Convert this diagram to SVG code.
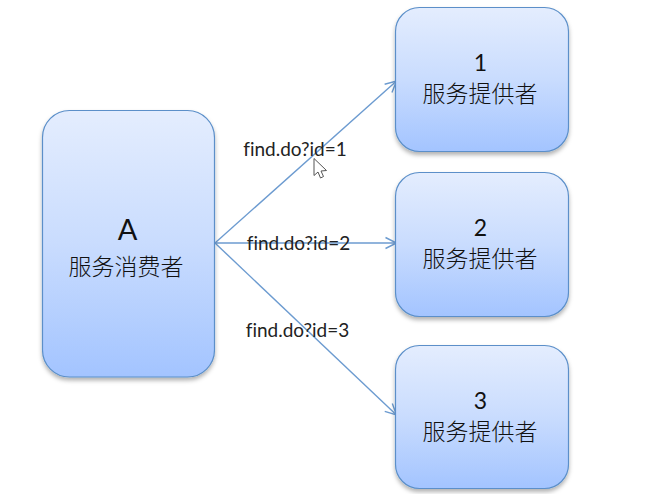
<svg xmlns="http://www.w3.org/2000/svg" width="657" height="494" viewBox="0 0 657 494">
<style>
.box{fill:url(#g);stroke:#5b8fc9;stroke-width:1.2}
.cn{font-family:"Noto Sans CJK SC",sans-serif;font-size:23px;font-weight:300;text-anchor:middle;fill:#111}
.big{font-family:"Lato","Noto Sans CJK SC",sans-serif;font-size:23px;text-anchor:middle;fill:#111}
.lbl{font-family:"Lato","Noto Sans CJK SC",sans-serif;font-size:19px;font-variant-ligatures:none;text-anchor:middle;fill:#222}
.c{stroke:#6c9bd0;stroke-width:1.4;fill:none;marker-end:url(#a)}
</style>
<defs>
<linearGradient id="g" x1="0" y1="0" x2="0" y2="1"><stop offset="0" stop-color="#e4edfe"/><stop offset="0.5" stop-color="#c9dcfe"/><stop offset="1" stop-color="#a3c4ff"/></linearGradient>
<filter id="s" x="-10%" y="-10%" width="120%" height="120%"><feDropShadow dx="0" dy="3" stdDeviation="2.2" flood-color="#000" flood-opacity="0.3"/></filter>
<marker id="a" markerWidth="14" markerHeight="14" refX="12" refY="7" orient="auto" markerUnits="userSpaceOnUse"><path d="M1 1.5L12 7L1 12.5" fill="none" stroke="#6c9bd0" stroke-width="1.4"/></marker>
</defs>
<g id="connectors">
<line class="c" x1="215" y1="243" x2="396.500" y2="81"/>
<line class="c" x1="215" y1="243" x2="396.500" y2="243"/>
<line class="c" x1="215" y1="243" x2="396.500" y2="415"/>
</g>
<g id="node-a"><rect class="box" filter="url(#s)" x="42.500" y="110.500" width="172" height="266.500" rx="27"/>
<text class="big" style="font-size:29px" x="127.500" y="240">A</text><text class="cn" x="126" y="275">服务消费者</text></g>
<g id="node-1"><rect class="box" filter="url(#s)" x="395.500" y="7.500" width="173" height="144" rx="24"/>
<text class="big" x="480.500" y="71">1</text><text class="cn" x="480" y="102">服务提供者</text></g>
<g id="node-2"><rect class="box" filter="url(#s)" x="395.500" y="172.500" width="173" height="144" rx="24"/>
<text class="big" x="480.500" y="236">2</text><text class="cn" x="480" y="267">服务提供者</text></g>
<g id="node-3"><rect class="box" filter="url(#s)" x="395.500" y="345.500" width="173" height="143" rx="24"/>
<text class="big" x="480.500" y="409">3</text><text class="cn" x="480" y="440">服务提供者</text></g>
<g id="labels">
<text class="lbl" x="295" y="156">find.do?id=1</text>
<text class="lbl" x="298.500" y="250">find.do?id=2</text>
<text class="lbl" x="297.500" y="337">find.do?id=3</text>
</g>
<path id="cursor" d="M314 158.500V175.500L318 172L320.500 178L323.500 176.500L321 171L326.500 170.500Z" fill="#fff" stroke="#555" stroke-width="1"/>
</svg>
